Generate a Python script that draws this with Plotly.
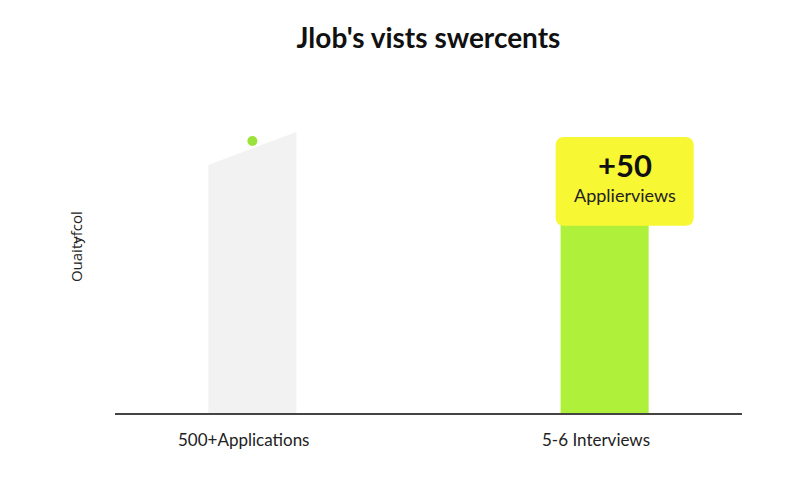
import plotly.graph_objects as go

categories = ["500+Applications", "5-6 Interviews"]
gray_left_top = 74.5
gray_right_top = 84.4
dot_value = 81.7
green_value = 62
badge_value = "+50"
badge_label = "Applierviews"
title = "Jlob's vists swercents"
y_title = "Ouaitɏfcol"

W = 0.25
fig = go.Figure()

# slanted gray bar
fig.add_trace(go.Scatter(
    x=[0 - W/2, 0 - W/2, 0 + W/2, 0 + W/2, 0 - W/2],
    y=[0, gray_left_top, gray_right_top, 0, 0],
    fill="toself", fillcolor="#f2f2f2", line=dict(width=0), mode="lines",
    hoverinfo="skip", showlegend=False))

fig.add_trace(go.Bar(x=[1], y=[green_value], width=W, marker=dict(color="#aef03a", line=dict(width=0)),
                     showlegend=False))

fig.add_trace(go.Scatter(x=[0], y=[dot_value], mode="markers",
                         marker=dict(color="#9be33a", size=10), showlegend=False))

# badge
x0, x1, y0, y1 = 0.861, 1.253, 56.2, 82.9
rx, ry = 0.025, 2.6
path = (f"M {x0+rx},{y0} L {x1-rx},{y0} Q {x1},{y0} {x1},{y0+ry} L {x1},{y1-ry} Q {x1},{y1} {x1-rx},{y1} "
        f"L {x0+rx},{y1} Q {x0},{y1} {x0},{y1-ry} L {x0},{y0+ry} Q {x0},{y0} {x0+rx},{y0} Z")
fig.add_shape(type="path", path=path, xref="x", yref="y", fillcolor="#f7f734", line=dict(width=0), layer="above")

fig.add_annotation(x=1.057, y=74.5, text=f"<b>{badge_value}</b>", showarrow=False,
                   font=dict(family="Lato, Inter, sans-serif", size=31, color="#111"))
fig.add_annotation(x=1.057, y=65.6, text=badge_label, showarrow=False,
                   font=dict(family="Lato, Inter, sans-serif", size=18, color="#222"))

fig.add_annotation(x=-0.082, y=0.5, xref="paper", yref="paper", text=y_title, textangle=-90,
                   showarrow=False, font=dict(family="Open Sans, sans-serif", size=15, color="#222"))

# category labels
for i, c in enumerate(categories):
    fig.add_annotation(x=i, y=0, xref="x", yref="y", text=c, showarrow=False, yanchor="top",
                       xshift=-9, yshift=-14,
                       font=dict(family="Lato, sans-serif", size=17, color="#222"))

fig.update_layout(
    width=800, height=480,
    margin=dict(l=107, r=66, t=72, b=75),
    paper_bgcolor="white", plot_bgcolor="white",
    title=dict(text=f"<b>{title}</b>", x=0.5, xref="paper", y=0.9375, yanchor="middle",
               font=dict(family="Lato, Inter, sans-serif", size=28, color="#111")),
    xaxis=dict(range=[-0.39, 1.39], tickvals=[0, 1], showticklabels=False, showgrid=False,
               zeroline=False, showline=True, linecolor="#444", linewidth=2, ticks=""),
    yaxis=dict(range=[0, 100], showgrid=False, zeroline=False, showticklabels=False, showline=False),
)

fig.write_html("out.html")
